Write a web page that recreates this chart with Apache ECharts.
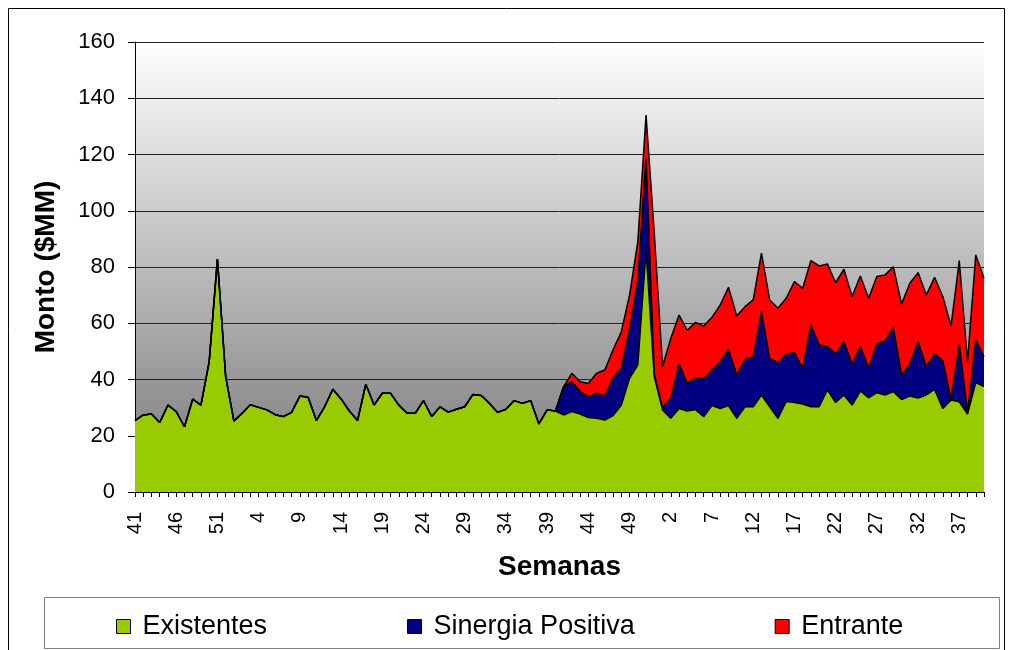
<!DOCTYPE html>
<html>
<head>
<meta charset="utf-8">
<script src="https://cdn.jsdelivr.net/npm/echarts@6/dist/echarts.min.js"></script>
<style>
  html, body { margin: 0; padding: 0; background: #ffffff; }
  #chart { width: 1015px; height: 650px; }
</style>
</head>
<body>
<div id="chart"></div>
<script>
// Week numbers, three consecutive periods
const weeksA = ['41','42','43','44','45','46','47','48','49','50','51','52'];
const weeksB = ['1','2','3','4','5','6','7','8','9','10','11','12','13','14','15','16','17','18','19','20',
                '21','22','23','24','25','26','27','28','29','30','31','32','33','34','35','36','37','38','39','40',
                '41','42','43','44','45','46','47','48','49','50','51','52'];
const weeksC = ['1','2','3','4','5','6','7','8','9','10','11','12','13','14','15','16','17','18','19','20',
                '21','22','23','24','25','26','27','28','29','30','31','32','33','34','35','36','37','38','39','40'];
const semanas = weeksA.concat(weeksB, weeksC);

// Amounts in $MM
const existentes = [
  25.4, 27.4, 27.7, 24.7, 30.9, 28.6, 23.2, 33, 30.9, 46.3, 82.8, 41,
  25.2, 28, 31, 30.1, 29.2, 27.5, 26.8, 28.3, 34.1, 33.7,
  25.4, 30.3, 36.5, 33.1, 28.8, 25.4, 38.3, 30.9, 35.1, 35.1,
  30.9, 28, 28, 32.5, 26.8, 30.3, 28.4, 29.4, 30.3, 34.7,
  34.3, 31.5, 28.3, 29.4, 32.5, 31.5, 32.5, 24.2, 29.2, 28.8,
  27.4, 28.6, 27.7, 26.5, 26.2, 25.6, 27.2, 30.9, 40.4, 45.2,
  86, 41, 29.2, 26.2, 29.7, 28.8, 29.3, 26.8, 30.7, 29.7,
  30.7, 26.2, 30.3, 30.3, 34.5, 30.3, 26.2, 32.2, 31.8, 31.3,
  30.3, 30.3, 36.3, 31.8, 34.5, 30.9, 35.9, 33.5, 35.3, 34.5,
  35.7, 32.9, 34.1, 33.4, 34.5, 36.5, 29.7, 32.7, 32.1, 27.7,
  38.9, 37.5
];
const sinergiaPositiva = [
  0, 0, 0, 0, 0, 0, 0, 0, 0, 0, 0, 0,
  0, 0, 0, 0, 0, 0, 0, 0, 0, 0,
  0, 0, 0, 0, 0, 0, 0, 0, 0, 0,
  0, 0, 0, 0, 0, 0, 0, 0, 0, 0,
  0, 0, 0, 0, 0, 0, 0, 0, 0, 0,
  10.1, 10.6, 8.0, 7.4, 8.9, 8.5, 13.5, 13.1, 17.6, 29.8,
  32.6, 1, 0.8, 7.1, 16, 9.8, 11.3, 13.5, 12.7, 16.6,
  20, 15.4, 16.9, 17.8, 29.6, 17.2, 19.8, 16.9, 17.7, 12.7,
  29.1, 22, 15.4, 17.3, 19, 14.6, 15.8, 10.7, 17.3, 19.3,
  22.7, 8.7, 11.4, 20.1, 10.1, 12.6, 17, 0.2, 20.5, 0.5,
  15.1, 10.6
];
const entrante = [
  0, 0, 0, 0, 0, 0, 0, 0, 0, 0, 0, 0,
  0, 0, 0, 0, 0, 0, 0, 0, 0, 0,
  0, 0, 0, 0, 0, 0, 0, 0, 0, 0,
  0, 0, 0, 0, 0, 0, 0, 0, 0, 0,
  0, 0, 0, 0, 0, 0, 0, 0, 0, 0,
  0, 3, 3.5, 4.7, 7.1, 9.3, 9.9, 13, 12, 14,
  15.4, 50, 14.6, 21.3, 17.2, 18.9, 19.7, 18.7, 18.7, 20.2,
  22.1, 21, 18.7, 20.2, 20.8, 20.8, 19.3, 19.8, 25.3, 28.4,
  22.9, 28.1, 29.4, 25.3, 25.7, 24, 25.1, 24.7, 24, 23.4,
  21.7, 25.2, 28.7, 24.5, 25.4, 27.2, 22.8, 26.1, 29.7, 18.1,
  30.3, 27.9
];

const FONT = 'Arial, "Liberation Sans", sans-serif';

function areaSeries(name, data, color) {
  return {
    name: name,
    type: 'line',
    stack: 'total',
    data: data,
    symbol: 'none',
    smooth: false,
    lineStyle: { color: '#000000', width: 1.5 },
    itemStyle: { color: color, borderColor: '#000000', borderWidth: 1 },
    areaStyle: { color: color, opacity: 1 },
    emphasis: { disabled: true }
  };
}

const chart = echarts.init(document.getElementById('chart'), null, { renderer: 'canvas' });
chart.setOption({
  animation: false,
  backgroundColor: '#ffffff',
  textStyle: { fontFamily: FONT },
  graphic: [
    { type: 'rect', silent: true, z: -10,
      shape: { x: 8.5, y: 8.5, width: 996, height: 700 },
      style: { fill: 'none', stroke: '#000000', lineWidth: 1 } },
    { type: 'rect', silent: true, z: -10,
      shape: { x: 44.5, y: 597.5, width: 955, height: 51 },
      style: { fill: '#ffffff', stroke: '#808080', lineWidth: 1 } }
  ],
  grid: {
    left: 135, right: 31, top: 42, bottom: 158,
    show: true,
    borderWidth: 0,
    backgroundColor: new echarts.graphic.LinearGradient(0, 0, 0, 1, [
      { offset: 0, color: '#ffffff' },
      { offset: 1, color: '#777777' }
    ])
  },
  legend: {
    left: 111, top: 608,
    itemGap: 140,
    itemWidth: 14, itemHeight: 14,
    icon: 'rect',
    itemStyle: { borderColor: '#000000', borderWidth: 1 },
    textStyle: { fontFamily: FONT, fontSize: 27, color: '#000000', padding: [0, 0, 0, 7] },
    data: ['Existentes', 'Sinergia Positiva', 'Entrante']
  },
  xAxis: {
    type: 'category',
    data: semanas,
    boundaryGap: false,
    name: 'Semanas',
    nameLocation: 'middle',
    nameGap: 61,
    nameTextStyle: { fontFamily: FONT, fontSize: 28, fontWeight: 'bold', color: '#000000' },
    axisLine: { lineStyle: { color: '#000000', width: 1 } },
    axisTick: { show: true, interval: 0, length: 5, lineStyle: { color: '#000000' } },
    axisLabel: { interval: 4, rotate: 90, margin: 20, fontFamily: FONT, fontSize: 20, color: '#000000' },
    splitLine: { show: false }
  },
  yAxis: {
    type: 'value',
    min: 0, max: 160, interval: 20,
    name: 'Monto ($MM)',
    nameLocation: 'middle',
    nameRotate: 90,
    nameGap: 75,
    nameTextStyle: { fontFamily: FONT, fontSize: 28, fontWeight: 'bold', color: '#000000' },
    axisLine: { show: true, lineStyle: { color: '#000000', width: 1 } },
    axisTick: { show: true, length: 7, lineStyle: { color: '#000000' } },
    axisLabel: { margin: 20, fontFamily: FONT, fontSize: 22, color: '#000000' },
    splitLine: { show: true, lineStyle: { color: '#222222', width: 1 } }
  },
  series: [
    areaSeries('Existentes', existentes, '#99CC00'),
    areaSeries('Sinergia Positiva', sinergiaPositiva, '#000080'),
    areaSeries('Entrante', entrante, '#FF0000')
  ]
});
</script>
</body>
</html>
